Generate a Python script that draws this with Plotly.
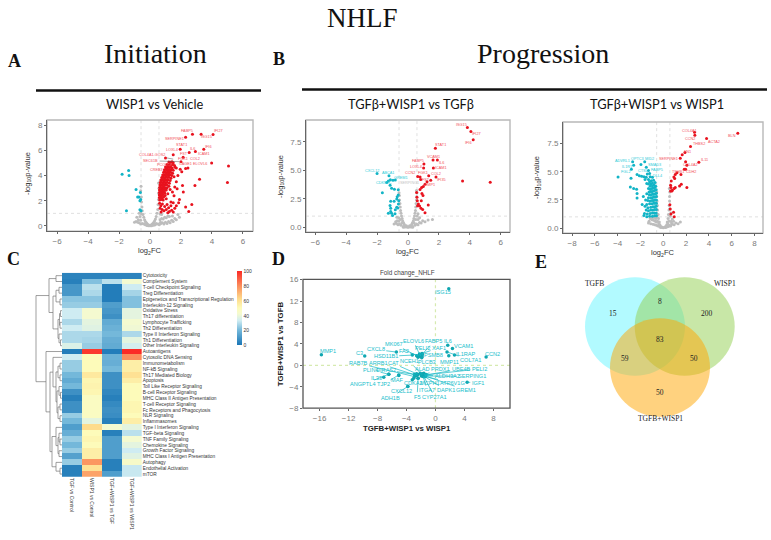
import plotly.graph_objects as go

W, H = 771, 540

# ---------- Panel A: WISP1 vs Vehicle ----------
A_gray = [(0,.02),(.05,.05),(-.05,.05),(.1,.1),(-.1,.08),(.15,.15),(-.15,.12),(.2,.22),(-.2,.2),(.25,.3),(-.25,.28),(.3,.42),(-.3,.36),
(.35,.55),(-.35,.5),(.4,.75),(-.4,.7),(.45,1.0),(-.45,.9),(.5,1.3),(-.5,1.2),(.52,1.7),(-.52,1.5),(.55,2.1),(-.55,1.9),(.56,2.6),(-.56,2.3),
(.58,3.0),(-.6,2.8),(-.58,3.15),(.55,3.4),(.4,.2),(.5,.15),(.6,.1),(.7,.2),(.8,.25),(.9,.15),(1.0,.3),(1.1,.2),(1.2,.35),(1.3,.25),(1.4,.45),
(1.5,.35),(1.6,.6),(1.7,.5),(1.9,.7),(.65,.5),(.75,.6),(.85,.55),(.95,.7),(1.05,.65),(1.15,.8),(1.25,.75),(1.45,.8),(1.8,.9),(-.6,.15),(-.7,.25),
(-.8,.3),(-.9,.35),(-1.0,.3),(-.75,.5),(-.85,.7),(-.65,.75),(-.7,1.0),(-.55,.95),(-.6,1.1),(-.3,.1),(-.4,.15),(-.5,.2),(.2,.05),(.3,.08),(-.2,.04),
(.1,.02),(-.1,.02),(.35,.12),(-.6,.45),(.75,.9),(.65,.95),(.68,.3)]
A_red = [(4.07,7.25),(3.3,7.27),(2.74,7.27),(2.3,7.04),(1.95,6.08),(3.47,6.08),(2.93,5.9),(2.53,5.82),(1.5,5.64),(2.14,5.45),(1.0,5.38),(3.98,5.0),
(5.07,4.75),(5.0,3.45),(3.2,3.7),(2.9,3.2),(2.1,3.2),(2.15,2.7),(2.7,1.7),(2.3,1.5),(2.5,1.15),(1.9,2.1),(1.85,1.85),(1.7,1.6),(2.45,4.6),(2.3,4.55),
(1.95,4.5),(2.05,4.3),(1.8,4.0),(1.7,3.5),(1.55,3.9),(1.6,3.1),(1.75,2.95),(1.45,2.7),(1.3,2.9),(1.55,2.4),(1.7,4.6),(2.0,5.1),
(1.22,5.08),(1.32,5.05),(1.42,5.1),(1.5,5.02),(1.1,4.88),(1.18,4.82),(1.27,4.9),(1.36,4.84),(1.45,4.87),(1.58,4.8),(1.0,4.68),(1.08,4.62),(1.17,4.7),
(1.26,4.64),(1.35,4.66),(1.43,4.6),(1.62,4.66),(.93,4.45),(1.02,4.5),(1.1,4.42),(1.19,4.48),(1.28,4.4),(1.37,4.46),(1.5,4.42),(.88,4.25),(.97,4.28),
(1.06,4.2),(1.14,4.3),(1.23,4.22),(1.33,4.26),(1.46,4.18),(.82,4.05),(.9,4.08),(.99,4.0),(1.08,4.1),(1.17,4.02),(1.27,4.06),(1.4,4.0),(.76,3.85),(.84,3.88),
(.93,3.8),(1.02,3.9),(1.11,3.84),(1.22,3.86),(1.35,3.78),(.7,3.65),(.78,3.68),(.87,3.6),(.96,3.7),(1.05,3.62),(1.16,3.66),(1.3,3.6),(.66,3.45),(.74,3.48),
(.83,3.4),(.92,3.5),(1.01,3.42),(1.12,3.46),(1.25,3.38),(.64,3.25),(.71,3.28),(.8,3.2),(.89,3.3),(.98,3.22),(1.08,3.26),(1.22,3.15),(.62,3.05),(.7,3.08),
(.79,3.0),(.88,3.1),(.97,3.02),(1.1,3.04),(.61,2.85),(.69,2.88),(.77,2.8),(.86,2.9),(.95,2.82),(1.05,2.86),(.6,2.65),(.68,2.68),(.76,2.6),(.85,2.7),(.95,2.62),
(1.15,2.55),(.6,2.45),(.67,2.48),(.75,2.4),(.84,2.5),(.98,2.42),(.6,2.25),(.68,2.28),(.77,2.2),(.88,2.3),(.62,2.05),(.72,2.1),(.85,2.05),(1.05,2.15),
(.62,1.8),(.7,1.6),(.8,1.75),(.95,1.55),(1.1,1.7),(1.2,1.45),(1.35,1.6),(.65,1.4),(.78,1.3),(.9,1.2),(1.05,1.3),(1.25,1.15),(1.4,1.25),(1.5,1.1),(1.6,1.4),
(1.15,1.05),(.72,1.1),(1.35,1.9),(1.5,1.85)]
A_cyan = [(-1.8,4.1),(-1.38,4.4),(-1.35,4.0),(-.9,2.9),(-.62,2.65),(-.8,2.3),(-.72,2.3),(-.6,2.1),(-.65,2.0),(-1.52,1.2),(-.65,1.28),(-.58,1.2)]
A_lab = ["FABP5","IFI27","ISG15","SERPINE1","STAT1","IFI6","IL6","LOXL4","ICAM1","FST","COL2","FGK1","CAGE1","ELOVL6","PCOLCE","CREB3"]
A_lab_x = [2.42,4.39,3.64,1.6,2.06,3.79,2.76,1.43,3.47,2.18,2.93,2.1,2.29,3.25,1.0,.39]
A_lab_y = [7.53,7.53,7.06,6.88,6.42,6.29,6.13,6.0,5.71,5.71,5.32,5.3,4.91,4.88,4.86,4.42]

# ---------- Panel B: TGFb+WISP1 vs TGFb ----------
B_gray = [(0,.03),(.08,.05),(-.08,.05),(.15,.1),(-.15,.1),(.2,.18),(-.2,.18),(.25,.3),(-.25,.3),(.3,.45),(-.3,.45),(.35,.6),(-.35,.6),(.38,.8),(-.38,.8),
(.42,1.0),(-.42,1.0),(.45,1.25),(-.45,1.25),(.48,1.5),(-.48,1.5),(.5,1.8),(-.5,1.8),(.52,2.1),(-.52,2.1),(.55,2.4),(-.55,2.4),(.56,2.7),(-.56,2.8),
(.58,3.05),(-.58,3.05),(.55,3.25),(.45,.2),(.55,.3),(.65,.25),(.75,.45),(.85,.4),(.95,.6),(1.1,.5),(1.3,.65),(1.58,.7),(.65,.7),(.75,.85),(.6,1.0),
(-.45,.2),(-.55,.3),(-.65,.25),(-.75,.35),(-.6,.55),(-.7,.6),(-.8,.5),(-.9,.3),(-.6,.85),(-.72,.9),(-.1,.15),(.1,.15),(.3,.1),(-.3,.1),(.4,.4),(-.4,.4),
(.2,.05),(-.2,.05),(.5,.7),(-.5,.7),(-.3,.02),(.3,.02),(.65,1.2)]
B_red = [(3.84,8.74),(4.07,8.4),(4.22,7.68),(1.77,6.93),(1.62,5.9),(1.9,5.9),(1.03,5.56),(1.01,5.21),(1.64,5.21),(1.34,4.53),(1.81,4.41),(.63,4.47),(.78,4.41),
(.82,4.21),(1.47,4.13),(1.23,4.01),(3.53,4.07),(5.32,3.95),(1.1,3.78),(.99,3.58),(.88,3.5),(.78,3.32),(.56,3.07),(.9,2.98),(.97,2.8),(.6,2.35),(.86,2.35),
(1.31,1.98),(.67,2.06),(.62,1.9),(.75,1.89),(.84,1.69),(.95,1.58),(1.1,1.29),(.58,2.64)]
B_cyan = [(-2.0,4.73),(-1.23,4.53),(-1.14,4.18),(-.97,4.13),(-1.27,4.07),(-1.38,3.93),(-.82,4.15),(-1.16,3.7),(-1.06,3.44),(-.88,3.35),(-1.66,3.04),(-.63,3.3),
(-.63,2.84),(-.73,2.49),(-.9,2.29),(-1.12,2.29),(-.6,2.35),(-.62,2.06),(-.73,1.78),(-1.16,1.92),(-1.12,1.4),(-1.27,1.26),(-1.06,1.26),(-.84,1.2),(-1.0,1.06),
(-.82,1.55),(-1.12,1.69),(-.66,1.72),(-.7,2.7)]
B_lab = ["ISG15","IFI27","IFI6","STAT1","VCAM1","IL6","FABP5","LOXL4","ICAM1","CCN2","FGK1","COL2","IFI35","FST","TIMP1"]
B_lab_x = [3.49,4.44,3.9,2.11,1.68,2.18,.67,.52,2.13,.13,.99,1.81,2.16,1.16,1.42]
B_lab_y = [8.97,8.14,7.42,7.19,6.16,5.67,5.79,5.3,5.19,4.81,4.79,4.67,4.13,4.18,3.7]
B_lab2 = ["CXCL12","ABCA1","GREM1","CDKN2C"]
B_lab2_x = [-2.35,-1.31,-.45,-1.55]
B_lab2_y = [4.93,4.81,4.33,3.87]

# ---------- Panel C: TGFb+WISP1 vs WISP1 ----------
C_gray = [(0,.03),(.1,.08),(-.1,.08),(.2,.15),(-.2,.15),(.3,.3),(-.3,.3),(.35,.55),(-.35,.55),(.42,.85),(-.42,.85),(.45,1.2),(-.45,1.2),(.5,1.6),(-.5,1.6),
(.52,2.0),(-.52,2.0),(.55,2.4),(-.55,2.4),(.55,2.8),(-.58,2.8),(.57,3.2),(-.58,3.2),(.53,3.5),(.45,.15),(.55,.25),(.65,.2),(.8,.35),(.95,.3),(1.1,.45),(1.3,.4),
(1.5,.55),(.7,.6),(.8,.8),(.6,1.05),(.72,.45),(.9,.6),(-.45,.2),(-.6,.25),(-.75,.3),(-.9,.35),(-1.1,.4),(-1.3,.45),(-.7,.6),(-.85,.7),(-1.0,.75),(-1.15,.85),(-.65,.85),
(-.6,.55),(-1.25,.6),(.2,.05),(-.2,.05),(.3,.1),(-.3,.1),(.5,.6),(-.5,.6),(.4,.4),(-.4,.4),(-.55,1.0),(-.75,.95),(-.95,.9),(.68,1.35),(.55,1.7)]
C_red = [(6.54,8.4),(2.74,8.49),(2.77,8.23),(3.8,7.94),(2.39,7.24),(1.66,6.51),(1.9,6.7),(1.49,6.2),(3.12,5.84),(1.96,5.87),(2.07,5.57),(1.84,5.22),(1.96,5.22),
(1.55,4.76),(1.05,4.76),(.93,4.52),(1.2,4.9),(.7,4.17),(2.07,3.59),(1.58,3.88),(1.43,3.73),(1.05,3.59),(.64,3.79),(.67,3.59),(.79,3.36),(.64,3.3),(.58,2.07),(.9,1.4),
(.67,1.25),(.96,1.02),(.61,1.69),(.75,3.3),(1.0,4.4),(.95,3.5)]
C_cyan = [(-3.97,4.52),(-2.69,5.87),(-1.63,5.87),(-2.6,5.57),(-2.8,5.22),(-1.96,5.63),(-1.49,5.4),(-2.3,4.76),(-2.83,4.41),(-2.89,3.65),(-2.6,3.5),(-2.34,3.44),(-2.3,3.06),(-2.3,2.66),
(-2.1,4.65),(-1.9,4.6),(-1.7,4.55),(-1.5,4.5),(-1.3,5.1),(-1.2,4.85),(-1.4,4.8),(-1.15,4.55),(-1.3,4.3),(-1.6,4.3),(-.95,4.5),(-1.05,4.2),(-1.2,4.1),(-.85,4.25),
(-.95,4.0),(-1.1,3.9),(-.72,4.05),(-.82,3.85),(-.95,3.75),(-1.15,3.7),(-1.3,3.9),(-1.45,3.95),(-.66,3.7),(-.75,3.6),(-.88,3.55),(-1.0,3.5),(-1.15,3.45),(-1.3,3.5),
(-.62,3.4),(-.72,3.35),(-.85,3.3),(-.98,3.25),(-1.1,3.25),(-1.25,3.2),(-.6,3.1),(-.7,3.05),(-.82,3.0),(-.95,3.0),(-1.08,2.95),(-1.22,2.95),(-1.45,3.05),(-.6,2.8),
(-.72,2.75),(-.85,2.75),(-.97,2.7),(-1.1,2.7),(-1.3,2.7),(-1.75,2.8),(-.6,2.5),(-.72,2.5),(-.85,2.45),(-.98,2.45),(-1.15,2.4),(-1.35,2.45),(-1.55,2.5),(-.6,2.2),(-.72,2.2),
(-.85,2.2),(-1.0,2.15),(-1.2,2.15),(-1.45,2.1),(-1.85,2.1),(-.62,1.95),(-.75,1.9),(-.9,1.9),(-1.1,1.85),(-1.35,1.8),(-1.6,1.95),(-.6,1.65),(-.75,1.65),(-.9,1.6),(-1.1,1.6),
(-1.3,1.55),(-1.5,1.6),(-.62,1.35),(-.78,1.35),(-.95,1.35),(-1.15,1.3),(-1.4,1.25),(-1.65,1.3),(-.6,1.1),(-.75,1.1),(-.95,1.05),(-1.2,1.05),(-1.45,1.0),(-1.7,1.12)]
C_lab = ["COL4A1","BLN","CCN2","ACTA2","THBS2","FN1","SERPINE1","IL11","COL4A2","TSHB1","CDH2"]
C_lab_x = [2.28,6.07,2.31,4.41,3.09,2.13,.5,3.65,2.36,1.28,2.42]
C_lab_y = [8.64,8.17,7.91,7.65,7.47,6.77,6.1,6.07,5.57,4.96,4.93]
C_lab2 = ["ADVRL1","OPTC3","MID2","SMAD3","IL1R1","FABP5","FGL2","CTSL","DLL4"]
C_lab2_x = [-3.59,-2.28,-1.2,-.79,-3.15,-.55,-3.27,-1.78,-.47]
C_lab2_y = [5.95,6.1,6.1,5.63,5.43,5.16,4.96,5.02,4.64]

# ---------- Panel C heatmap ----------
hm_rows = ["Cytotoxicity","Complement System","T-cell Checkpoint Signaling","Treg Differentiation","Epigenetics and Transcriptional Regulation",
"Interleukin-12 Signaling","Oxidative Stress","Th17 differentiation","Lymphocyte Trafficking","Th2 Differentiation","Type II Interferon Signaling",
"Th1 Differentiation","Other Interleukin Signaling","Autoantigens","Cytosolic DNA Sensing","Immunometabolism","NF-kB Signaling","Th17 Mediated Biology",
"Apoptosis","Toll Like Receptor Signaling","B-cell Receptor Signaling","MHC Class II Antigen Presentation","T-cell Receptor Signaling","Fc Receptors and Phagocytosis",
"NLR Signaling","Inflammasomes","Type I Interferon Signaling","TGF-beta Signaling","TNF Family Signaling","Chemokine Signaling","Growth Factor Signaling",
"MHC Class I Antigen Presentation","Autophagy","Endothelial Activation","mTOR"]
hm_cols = ["TGF vs Control","WISP1 vs Control","TGF+WISP1 vs TGF","TGF+WISP1 vs WISP1"]
hm_tgf = [4,3,10,10,23,25,33,33,28,33,28,28,36,2,33,25,25,20,16,20,8,3,8,8,25,20,12,17,25,20,25,13,25,3,3]
hm_wisp = [4,22,30,28,23,25,42,42,38,37,28,27,25,97,50,50,50,57,52,53,52,47,47,47,47,38,62,50,52,50,55,55,78,60,75]
hm_tw_t = [4,30,2,2,2,12,10,8,16,18,20,17,16,2,18,17,20,8,8,8,5,3,6,8,7,3,42,3,12,12,12,12,3,3,12]
hm_tw_w = [4,42,33,27,22,22,38,38,42,41,28,38,34,100,80,55,55,60,55,50,50,50,52,52,50,55,38,30,42,38,33,37,45,32,32]
hm_scale = [[0,'#1a76b6'],[.2,'#74b8da'],[.33,'#cfecf2'],[.42,'#f4fad0'],[.5,'#fdfbba'],[.62,'#fedc8c'],[.8,'#fb8d5c'],[1,'#fb2a26']]

# dendrogram: (line position, child, child), leaves are row indices
dendro = (36,
  (49,(56,0,1),
      (53,(56,(59,2,3),(60,4,5)),
          (58,(59.5,(60.5,6,7),(60,8,9)),(59,10,(60.5,11,12))))),
  (46,13,
      (50,(53,14,(56,(58,(60,15,16),(60,17,18)),(57,(59,19,(60.5,20,21)),(58,(60,22,23),(60,24,25))))),
          (52,(56,26,(58,(59,27,(60,28,29)),(59,30,31))),(56,32,(60,33,34))))))

# ---------- Panel D ----------
D_pts = [("ISG15",1.84,14.3,1.0,13.6),("MMP1",-15.76,1.98,-14.9,2.65),("C3",-9.77,1.73,-10.55,2.35),("CXCL8",-5.4,2.47,-8.25,2.96),
("MK067",-2.6,1.8,-5.7,3.95),("FA2",-2.3,1.8,-4.4,2.65),("HSD11B1",-3.2,1.9,-6.87,1.67),("ELOVL6",-2.1,1.75,-3.04,4.57),("FABP5",-1.85,2.0,-.23,4.5),
("IL6",1.7,3.76,1.8,4.5),("XAF1",-1.85,2.2,.5,3.27),("VCAM1",2.35,3.15,3.82,3.52),("PELI2",-2.1,1.75,-1.75,3.2),("IL1RAP",2.63,1.91,4.2,2.16),
("PSMB8",-1.85,1.9,-.23,1.98),("CCN2",7.0,1.54,7.83,2.2),("COL7A1",1.6,2.5,4.84,.93),("NCEH1",-1.9,-1.7,-3.6,.74),("PLCB3",-1.85,1.6,-1.2,.68),
("MMP11",1.84,1.79,1.94,.68),("RAB7B",-2.9,-2.1,-10.65,.37),("ARRB1",-2.6,-1.9,-7.83,.37),("CAT",-2.4,-1.7,-5.85,.37),("PLIN4",-6.45,-1.67,-8.9,-.86),
("DIRAS2",-2.9,-1.7,-6.9,-.86),("ALAD",-1.9,-1.7,-1.75,-.74),("PRDX1",-1.6,-1.75,.7,-.74),("UBE4B",-1.5,-1.85,3.55,-.68),("PELI2",-1.4,-1.8,6.04,-.68),
("ALDH3A2",-1.5,-1.9,1.6,-1.98),("SERPING1",-1.4,-2.0,5.07,-2.04),("IL33",-7.14,-2.22,-8.16,-2.28),("MAF",-5.07,-1.9,-5.3,-2.78),("TJP2",-5.07,-1.8,-7.24,-3.58),
("ANGPTL4",-6.45,-1.67,-10,-3.58),("CDKA2",-2.4,-2.4,-3.0,-3.27),("MCPH1",-1.7,-2.1,-.78,-3.27),("ATP6V1G",-1.4,-2.1,2.3,-3.27),("IGF1",4.38,-3.15,5.85,-3.27),
("CXCL12",-3.82,-3.95,-4.65,-4.8),("ITGA7",-1.7,-2.1,-1.15,-4.63),("DAPK1",-1.5,-2.1,1.47,-4.63),("GREM1",-1.4,-2.0,4.24,-4.63),("ADH1B",-3.82,-3.95,-6.2,-6.05),
("F5",-2.4,-2.4,-2.53,-5.86),("CYP27A1",-1.6,-2.1,-.1,-5.92)]
D_extra = [(-3.0,-2.4),(-3.2,-2.7),(-2.6,-1.6),(-2.1,-1.5),(-1.95,-2.0),(-1.75,-1.6),(-2.2,2.1),(-2.4,1.5),(-1.9,1.4),(-1.6,-1.5),(-1.3,-1.7)]

# ---------- Panel E venn ----------
venn_sets = ["TGFB","WISP1","TGFB+WISP1"]
venn_counts = [15,200,50,8,59,50,83]

RED, CYAN, GRAY = '#e8121e', '#12b4c6', '#bdbdbd'
REDT, CYANT = '#f2505a', '#2ccbd8'
SANS, SERIF, HEAD = 'Liberation Sans', 'Liberation Serif', 'Lato'

fig = go.Figure()
anns, shapes = [], []

def ann(text, px, py, size, color='#222', family=SANS, angle=0, **kw):
    anns.append(dict(text=text, x=px/W, y=1-py/H, xref='paper', yref='paper', showarrow=False,
                     font=dict(size=size, color=color, family=family), textangle=angle,
                     xanchor='center', yanchor='middle', **kw))

def dom(l, r, t, b):
    return dict(x=[l/W, r/W], y=[1-b/H, 1-t/H])

def pts(ax, data, color, size):
    fig.add_trace(go.Scatter(x=[p[0] for p in data], y=[p[1] for p in data], mode='markers',
                             xaxis=ax[0], yaxis=ax[1], marker=dict(color=color, size=size, line_width=0),
                             hoverinfo='skip', showlegend=False, cliponaxis=True))

def labels(ax, names, xs, ys, color, size=3.8):
    for n, x, y in zip(names, xs, ys):
        anns.append(dict(text=n, x=x, y=y, xref=ax[0], yref=ax[1], showarrow=False,
                         font=dict(size=size, color=color, family=SANS)))

def axis_style(dm, rng, ticks, border='#b5b5b5'):
    return dict(domain=dm, range=rng, tickvals=ticks, ticks='outside', ticklen=2, tickwidth=.8, tickcolor='#666',
                showgrid=False, zeroline=False, showline=True, linecolor='#666', linewidth=1,
                tickfont=dict(size=8, color='#7a7a7a', family=SANS))

volcanoes = [
    (('x','y'), (47,253,118,231), [-6.65,6.65], [-.41,8.4], list(range(-6,7,2)), [0,2,4,6,8], ['0','2','4','6','8'], A_gray, A_red, A_cyan),
    (('x2','y2'), (306,510,118,232), [-6.6,6.6], [-.4,9.4], list(range(-6,7,2)), [0,2.5,5,7.5], ['0.0','2.5','5.0','7.5'], B_gray, B_red, B_cyan),
    (('x3','y3'), (563,763,120,233), [-8.8,8.75], [-.44,9.4], list(range(-8,9,2)), [0,2.5,5,7.5], ['0.0','2.5','5.0','7.5'], C_gray, C_red, C_cyan),
]
layout = {}
names = ['', '2', '3']
for i, (ax, box, xr, yr, xt, yt, ytl, g, r, c) in enumerate(volcanoes):
    d = dom(*box)
    layout['xaxis'+names[i]] = dict(axis_style(d['x'], xr, xt), anchor='y'+names[i])
    layout['yaxis'+names[i]] = dict(axis_style(d['y'], yr, yt), anchor='x'+names[i], ticktext=ytl)
    for v in (-.58, .58):
        shapes.append(dict(type='line', xref=ax[0], yref=ax[1]+' domain', x0=v, x1=v, y0=0, y1=1,
                           line=dict(color='#d8d8d8', width=.8, dash='dot'), layer='below'))
    shapes.append(dict(type='line', xref=ax[0]+' domain', yref=ax[1], x0=0, x1=1, y0=1, y1=1,
                       line=dict(color='#d8d8d8', width=.8, dash='dot'), layer='below'))
    shapes.append(dict(type='rect', xref=ax[0]+' domain', yref=ax[1]+' domain', x0=0, x1=1, y0=0, y1=1,
                       line=dict(color='#b8b8b8', width=1.4), layer='below'))
    pts(ax, g, GRAY, 3)
    pts(ax, c, CYAN, 3)
    pts(ax, r, RED, 3)

labels(('x','y'), A_lab, A_lab_x, A_lab_y, REDT)
anns.append(dict(text='COL4A1-GOS2', x=1.5, y=5.3, xref='x', yref='y', axref='x', ayref='y', ax=.15, ay=5.61, showarrow=True,
                 arrowhead=0, arrowwidth=.5, arrowcolor='#555', font=dict(size=3.8, color=REDT, family=SANS)))
anns.append(dict(text='SEC61B', x=1.9, y=5.1, xref='x', yref='y', axref='x', ayref='y', ax=.04, ay=5.17, showarrow=True,
                 arrowhead=0, arrowwidth=.5, arrowcolor='#555', font=dict(size=3.8, color=REDT, family=SANS)))
labels(('x2','y2'), B_lab, B_lab_x, B_lab_y, REDT)
labels(('x2','y2'), B_lab2, B_lab2_x, B_lab2_y, CYANT)
labels(('x2','y2'), ['SERPING1'], [.09], [3.87], '#c4c4c4')
labels(('x3','y3'), C_lab, C_lab_x, C_lab_y, REDT)
labels(('x3','y3'), C_lab2, C_lab2_x, C_lab2_y, CYANT)

# heatmap
d = dom(62, 141.7, 273.3, 481)
hm_z = [list(t) for t in zip(hm_tgf, hm_wisp, hm_tw_t, hm_tw_w)]
fig.add_trace(go.Heatmap(z=hm_z, x=hm_cols, y=hm_rows, xaxis='x4', yaxis='y4', colorscale=hm_scale, zmin=0, zmax=100,
    hoverinfo='skip', xgap=0, ygap=0,
    colorbar=dict(x=237/W, xanchor='left', y=1-272/H, yanchor='top', len=75/H, lenmode='fraction', thickness=5, thicknessmode='pixels',
                  tickvals=[0,20,40,60,80,100], ticks='', tickfont=dict(size=5, color='#333', family=SANS), outlinewidth=0, xpad=0, ypad=0)))
layout['xaxis4'] = dict(domain=d['x'], anchor='y4', tickangle=90, tickfont=dict(size=5, color='#333', family=SANS), ticks='', showgrid=False, zeroline=False, side='bottom')
layout['yaxis4'] = dict(domain=d['y'], anchor='x4', side='right', autorange='reversed', tickfont=dict(size=4.8, color='#333', family=SANS), ticks='', showgrid=False, zeroline=False, ticklen=0, dtick=1)

# panel D
d = dom(303, 510, 280, 411)
layout['xaxis5'] = dict(axis_style(d['x'], [-18.3,10.3], list(range(-16,9,4))), anchor='y5', showline=False)
layout['yaxis5'] = dict(axis_style(d['y'], [-8,16.05], list(range(-8,17,4))), anchor='x5', showline=False)
shapes.append(dict(type='line', xref='x5', yref='y5 domain', x0=0, x1=0, y0=0, y1=1, line=dict(color='#d6eab0', width=1.2, dash='dot'), layer='below'))
shapes.append(dict(type='line', xref='x5 domain', yref='y5', x0=0, x1=1, y0=0, y1=0, line=dict(color='#d6eab0', width=1.2, dash='dot'), layer='below'))
shapes.append(dict(type='rect', xref='x5 domain', yref='y5 domain', x0=0, x1=1, y0=0, y1=1, line=dict(color='#555', width=1.3), layer='above'))
fig.add_trace(go.Scatter(x=[p[1] for p in D_pts]+[p[0] for p in D_extra], y=[p[2] for p in D_pts]+[p[1] for p in D_extra],
    mode='markers', xaxis='x5', yaxis='y5', marker=dict(color='#0fa6b0', size=3.5, line_width=0), hoverinfo='skip', showlegend=False))
for n, x, y, lx, ly in D_pts:
    anns.append(dict(text=n, x=x, y=y, xref='x5', yref='y5', axref='x5', ayref='y5', ax=lx, ay=ly, showarrow=True, arrowhead=0,
                     arrowwidth=.7, arrowcolor='#14b8c4', standoff=0, font=dict(size=5.6, color='#18c0cc', family=SANS)))

# dendrogram on a full-page pixel axis
layout['xaxis6'] = dict(domain=[0,1], range=[0,W], visible=False, anchor='y6', fixedrange=True)
layout['yaxis6'] = dict(domain=[0,1], range=[H,0], visible=False, anchor='x6', fixedrange=True)
dx, dy = [], []
def walk(n):
    if isinstance(n, int):
        return 62, 273.3 + (n+.5)*(481-273.3)/len(hm_rows)
    pos, a, b = n
    xa, ya = walk(a); xb, yb = walk(b)
    dx.extend([xa,pos,pos,xb,None]); dy.extend([ya,ya,yb,yb,None])
    return pos, (ya+yb)/2
walk(dendro)
fig.add_trace(go.Scatter(x=dx, y=dy, mode='lines', xaxis='x6', yaxis='y6', line=dict(color='#777', width=.7), hoverinfo='skip', showlegend=False))

# venn
for (cx, cy, col) in [(635,328,'rgba(0,240,255,.3)'), (684.7,328,'rgba(146,208,80,.5)'), (660,369.7,'rgba(255,165,0,.5)')]:
    shapes.append(dict(type='circle', xref='x6', yref='y6', x0=cx-50, x1=cx+50, y0=cy-50, y1=cy+50, fillcolor=col, line_width=0, layer='below'))
for t, (x, y) in zip(venn_sets, [(594,284),(725,284),(660,422)]):
    ann(t, x, y, 7.5, '#222', SERIF)
for c, (x, y) in zip(venn_counts, [(613,315),(707,315),(660,395),(660,303),(625,361),(694,361),(660,341)]):
    ann(str(c), x, y, 7.5, '#222', SERIF)

# titles
ann('NHLF', 362, 14, 27, '#111', SERIF)
ann('Initiation', 155, 50, 28, '#111', SERIF)
ann('Progression', 543, 50, 28, '#111', SERIF)
for t, x, y in [('A',14,58),('B',279,56),('C',13,259),('D',278,259),('E',541,262)]:
    ann('<b>%s</b>' % t, x, y, 18, '#111', SERIF)
ann('WISP1 vs Vehicle', 154, 102, 12.8, '#111', HEAD)
ann('TGFβ+WISP1 vs TGFβ', 411, 102, 12.8, '#111', HEAD)
ann('TGFβ+WISP1 vs WISP1', 657, 102, 12.8, '#111', HEAD)
shapes.append(dict(type='line', xref='x6', yref='y6', x0=36, x1=261, y0=88, y1=88, line=dict(color='#111', width=2.5)))
shapes.append(dict(type='line', xref='x6', yref='y6', x0=302, x1=767, y0=87, y1=87, line=dict(color='#111', width=2.5)))

for px, py, ypx, ypy, in [(150,251,28,173),(408,252,281,176),(663,253,537,177)]:
    ann('log<sub>2</sub>FC', px, py, 7.5, '#333')
    ann('-log<sub>10</sub>p-value', ypx, ypy, 7.5, '#333', angle=-90)
ann('Fold change_NHLF', 407, 274, 6.3, '#444')
ann('<b>TGFB+WISP1 vs WISP1</b>', 407, 432, 7.8, '#222')
ann('<b>TGFB+WISP1 vs TGFB</b>', 280, 346, 7.8, '#222', angle=-90)

fig.update_layout(width=W, height=H, margin=dict(l=0,r=0,t=0,b=0), paper_bgcolor='white', plot_bgcolor='rgba(0,0,0,0)',
                  showlegend=False, annotations=anns, shapes=shapes, **layout)
fig.write_html("out.html", config={'displayModeBar': False},
               post_script="document.body.style.margin='0';document.documentElement.style.overflow='hidden';")
